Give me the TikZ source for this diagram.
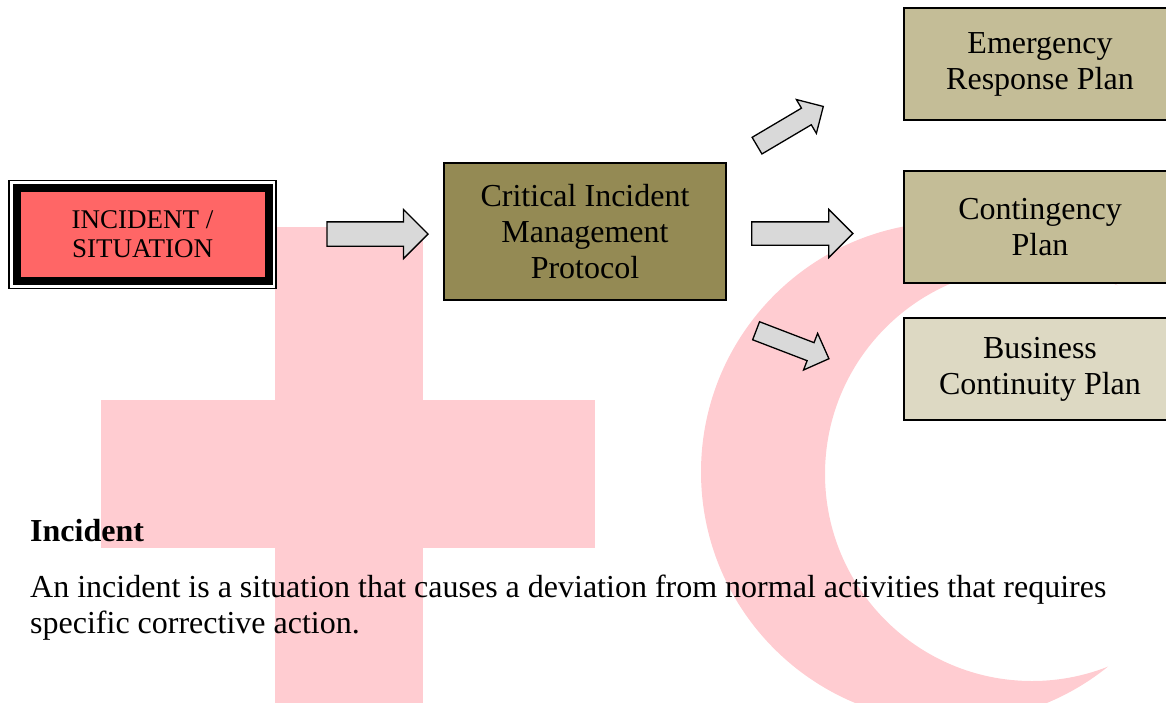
\documentclass[tikz,border=0pt]{standalone}
\usepackage{fontspec}
\setmainfont{Liberation Serif}
\usetikzlibrary{shapes.arrows}
\definecolor{wmpink}{RGB}{255,204,209}
\definecolor{incred}{RGB}{255,102,102}
\definecolor{olivebox}{RGB}{148,138,84}
\definecolor{tanbox}{RGB}{196,189,151}
\definecolor{palebox}{RGB}{221,217,195}
\definecolor{arrgray}{RGB}{217,217,217}
\begin{document}
\begin{tikzpicture}[x=1pt,y=-1pt,line join=miter]
	\tikzset{planbox/.style={draw=black,line width=1.5pt,minimum width=272pt,align=center,inner sep=0pt,font=\fontsize{32}{36}\selectfont},
		blockarrow/.style={single arrow,draw=black,fill=arrgray,line width=1.3pt,inner xsep=0pt,single arrow head extend=#1}}
	\useasboundingbox (0,0) rectangle (1166,702);
	\clip (0,0) rectangle (1166,702);
	% watermark
	\fill[wmpink] (275,227) rectangle (423,710);
	\fill[wmpink] (101,400) rectangle (595,548);
	\begin{scope}
		\clip (951,472) circle (250);
		\fill[wmpink,even odd rule] (690,210) rectangle (1210,730) (1032,474) circle (207);
	\end{scope}
	% boxes
	\node[draw=black,fill=incred,line width=8pt,outer sep=0pt,minimum width=252pt,minimum height=93pt,align=center,inner sep=0pt,font=\fontsize{27}{29}\selectfont] (incident) at (142.5,234.5) {INCIDENT /\\SITUATION};
	\draw[line width=1.2pt] ([shift={(-7.5,-7.5)}]incident.north west) rectangle ([shift={(7.5,7.5)}]incident.south east);
	\node[planbox,fill=olivebox,minimum width=282pt,minimum height=137pt] (cimp) at (585,231.5) {Critical Incident\\Management\\Protocol};
	\node[planbox,fill=tanbox,minimum height=112pt] (erp) at (1040,64) {Emergency\\Response Plan};
	\node[planbox,fill=tanbox,minimum height=112pt] (cp) at (1040,227) {Contingency\\Plan};
	\node[planbox,fill=palebox,minimum height=102pt] (bcp) at (1040,369) {Business\\Continuity Plan};
	% block arrows
	\node[blockarrow=12.5pt,inner ysep=11.5pt,minimum height=101pt] (toproto) at (371.5,234) {};
	\node[blockarrow=12.5pt,inner ysep=11pt,minimum height=101pt] (tocp) at (796.5,233.5) {};
	\node[blockarrow=10pt,inner ysep=9pt,minimum height=77pt,rotate=30.6] (toerp) at (786,128.5) {};
	\node[blockarrow=10pt,inner ysep=9pt,minimum height=78pt,rotate=-21] (tobcp) at (788,343) {};
	% text
	\node[anchor=base west,inner sep=0pt,font=\fontsize{32}{36}\selectfont\bfseries] (head) at (30,541) {Incident};
	\node[anchor=base west,align=left,inner sep=0pt,font=\fontsize{32}{36}\selectfont] (defn) at (30,633) {An incident is a situation that causes a deviation from normal activities that requires\\specific corrective action.};
\end{tikzpicture}
\end{document}
